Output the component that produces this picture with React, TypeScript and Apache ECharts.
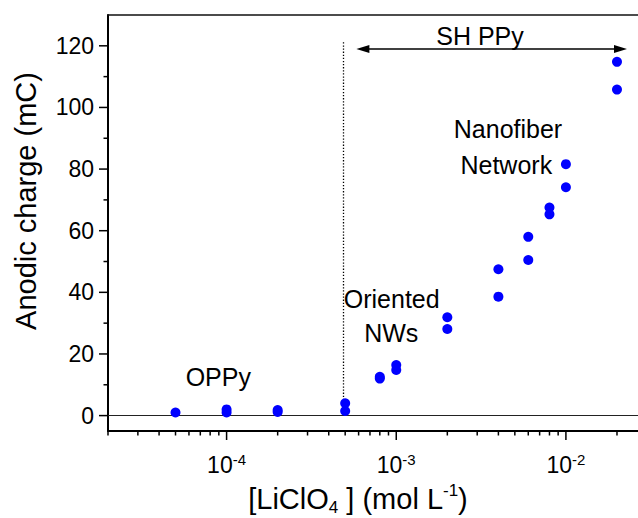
import React, { useEffect, useRef } from 'react';
import * as echarts from 'echarts';

// ---- data ----
const concentration = [
  5e-5, 1e-4, 1e-4, 2e-4, 2e-4, 5e-4, 5e-4, 8e-4, 8e-4, 1e-3, 1e-3,
  2e-3, 2e-3, 4e-3, 4e-3, 6e-3, 6e-3, 8e-3, 8e-3, 1e-2, 1e-2, 2e-2, 2e-2,
];
const anodicCharge = [
  1.0, 1.0, 2.0, 1.2, 1.8, 1.5, 4.0, 12.0, 12.6, 14.8, 16.4,
  28.1, 31.9, 38.6, 47.5, 50.5, 58.0, 65.3, 67.5, 74.1, 81.6, 105.8, 114.8,
];

const xMajorTicks = [1e-4, 1e-3, 1e-2];
const xMajorLabels = ['-4', '-3', '-2'];
const xMinorTicks = [
  2e-5, 3e-5, 4e-5, 5e-5, 6e-5, 7e-5, 8e-5, 9e-5,
  2e-4, 3e-4, 4e-4, 5e-4, 6e-4, 7e-4, 8e-4, 9e-4,
  2e-3, 3e-3, 4e-3, 5e-3, 6e-3, 7e-3, 8e-3, 9e-3,
  2e-2,
];
const yMajorTicks = [0, 20, 40, 60, 80, 100, 120];
const yTickLabels = ['0', '20', '40', '60', '80', '100', '120'];
const yMinorTicks = [10, 30, 50, 70, 90, 110];

const X_MIN = 2e-5;
const X_MAX = 0.0266;
const Y_MIN = -5;
const Y_MAX = 130;

const dividerX = 4.84e-4;
const dividerTop = 121.7;
const arrowFrom = 6.36e-4;
const arrowTo = 0.02097;
const arrowY = 119;

const FONT = "'Liberation Sans', Arial, Helvetica, sans-serif";

export default function App() {
  const ref = useRef<HTMLDivElement>(null);

  useEffect(() => {
    document.body.style.margin = '0';
    const chart = echarts.init(ref.current!, null, { renderer: 'svg' });

    const points = concentration.map((c, i) => [c, anodicCharge[i]]);
    const xTickData = [...xMajorTicks, ...xMinorTicks].map((v) => [v, Y_MIN]);
    const yTickData = [...yMajorTicks, ...yMinorTicks].map((v) => [X_MIN, v]);

    const textStyle = (text: string, size: number, extra: any = {}) => ({
      text,
      fontSize: size,
      fontFamily: FONT,
      fill: '#000',
      align: 'center',
      textAlign: 'center',
      verticalAlign: 'middle',
      textVerticalAlign: 'middle',
      ...extra,
    });

    chart.setOption({
      animation: false,
      textStyle: { fontFamily: FONT },
      grid: { left: 108, right: 0, top: 15, bottom: 87, containLabel: false, outerBoundsMode: 'none' },
      xAxis: [
        {
          type: 'log',
          logBase: 10,
          min: X_MIN,
          max: X_MAX,
          axisLine: { show: true, onZero: false, lineStyle: { color: '#000', width: 2 } },
          axisTick: { show: false },
          axisLabel: { show: false },
          splitLine: { show: false },
          minorTick: { show: false },
          minorSplitLine: { show: false },
        },
        {
          type: 'value',
          position: 'top',
          min: 0,
          max: 1,
          axisLine: { show: true, onZero: false, lineStyle: { color: '#111', width: 1.5 } },
          axisTick: { show: false },
          axisLabel: { show: false },
          splitLine: { show: false },
        },
      ],
      yAxis: {
        type: 'value',
        min: Y_MIN,
        max: Y_MAX,
        axisLine: { show: true, onZero: false, lineStyle: { color: '#000', width: 2 } },
        axisTick: { show: false },
        axisLabel: { show: false },
        splitLine: { show: false },
      },
      series: [
        {
          type: 'scatter',
          data: points,
          symbol: 'circle',
          symbolSize: 10,
          itemStyle: { color: '#0000ff', opacity: 1 },
          z: 4,
          silent: true,
          markLine: {
            silent: true,
            symbol: 'none',
            z: 1,
            label: { show: false },
            emphasis: { disabled: true },
            data: [
              { yAxis: 0, lineStyle: { color: '#222', width: 1, type: 'solid' } },
              [
                { coord: [dividerX, 0], lineStyle: { color: '#000', width: 1.3, type: [1.3, 1.8] } },
                { coord: [dividerX, dividerTop] },
              ],
              [
                {
                  coord: [arrowFrom, arrowY],
                  symbol: 'triangle',
                  symbolSize: [8, 13],
                  lineStyle: { color: '#000', width: 1.5, type: 'solid' },
                },
                { coord: [arrowTo, arrowY], symbol: 'triangle', symbolSize: [8, 13] },
              ],
            ],
          },
        },
        {
          type: 'custom',
          coordinateSystem: 'cartesian2d',
          silent: true,
          clip: false,
          z: 3,
          data: xTickData,
          renderItem: (params: any, api: any) => {
            const p = api.coord([api.value(0), api.value(1)]);
            const major = params.dataIndex < xMajorTicks.length;
            const len = major ? 9 : 4.5;
            const children: any[] = [
              {
                type: 'line',
                shape: { x1: p[0], y1: p[1], x2: p[0], y2: p[1] + len },
                style: { stroke: '#000', lineWidth: 1.5 },
              },
            ];
            if (major) {
              children.push({
                type: 'text',
                style: {
                  text: `{b|10}{s|${xMajorLabels[params.dataIndex]}}`,
                  x: p[0],
                  y: p[1] + 20.5,
                  align: 'center',
                  textAlign: 'center',
                  verticalAlign: 'top',
                  textVerticalAlign: 'top',
                  fill: '#000',
                  rich: {
                    b: { fontSize: 23, fontFamily: FONT, fill: '#000', lineHeight: 26 },
                    s: { fontSize: 15, fontFamily: FONT, fill: '#000', lineHeight: 15, verticalAlign: 'top' },
                  },
                },
              });
            }
            return { type: 'group', children };
          },
        },
        {
          type: 'custom',
          coordinateSystem: 'cartesian2d',
          silent: true,
          clip: false,
          z: 3,
          data: yTickData,
          renderItem: (params: any, api: any) => {
            const p = api.coord([api.value(0), api.value(1)]);
            const major = params.dataIndex < yMajorTicks.length;
            const len = major ? 9 : 4.5;
            const children: any[] = [
              {
                type: 'line',
                shape: { x1: p[0] - len, y1: p[1], x2: p[0], y2: p[1] },
                style: { stroke: '#000', lineWidth: 1.5 },
              },
            ];
            if (major) {
              children.push({
                type: 'text',
                style: {
                  text: yTickLabels[params.dataIndex],
                  x: p[0] - 14,
                  y: p[1],
                  fontSize: 23,
                  fontFamily: FONT,
                  fill: '#000',
                  align: 'right',
                  textAlign: 'right',
                  verticalAlign: 'middle',
                  textVerticalAlign: 'middle',
                },
              });
            }
            return { type: 'group', children };
          },
        },
      ],
      graphic: [
        { type: 'text', x: 480, y: 35.5, silent: true, style: textStyle('SH PPy', 25) },
        { type: 'text', x: 508, y: 129.3, silent: true, style: textStyle('Nanofiber', 25) },
        { type: 'text', x: 506.3, y: 164.7, silent: true, style: textStyle('Network', 25) },
        { type: 'text', x: 391.7, y: 298.5, silent: true, style: textStyle('Oriented', 25) },
        { type: 'text', x: 391.3, y: 333, silent: true, style: textStyle('NWs', 25) },
        { type: 'text', x: 218.3, y: 376.8, silent: true, style: textStyle('OPPy', 25) },
        {
          type: 'text',
          x: 25.5,
          y: 201,
          rotation: Math.PI / 2,
          silent: true,
          style: textStyle('Anodic charge (mC)', 29),
        },
        {
          type: 'text',
          x: 358,
          y: 482.3,
          silent: true,
          style: textStyle('[LiClO{sub|4} ] (mol L{sup|-1})', 29, {
            verticalAlign: 'top',
            textVerticalAlign: 'top',
            lineHeight: 34,
            rich: {
              sub: { fontSize: 17, fontFamily: FONT, fill: '#000', lineHeight: 12, verticalAlign: 'bottom' },
              sup: { fontSize: 17, fontFamily: FONT, fill: '#000', lineHeight: 30, verticalAlign: 'top' },
            },
          }),
        },
      ],
    });

    return () => {
      chart.dispose();
    };
  }, []);

  return <div ref={ref} style={{ width: 638, height: 518 }} />;
}
